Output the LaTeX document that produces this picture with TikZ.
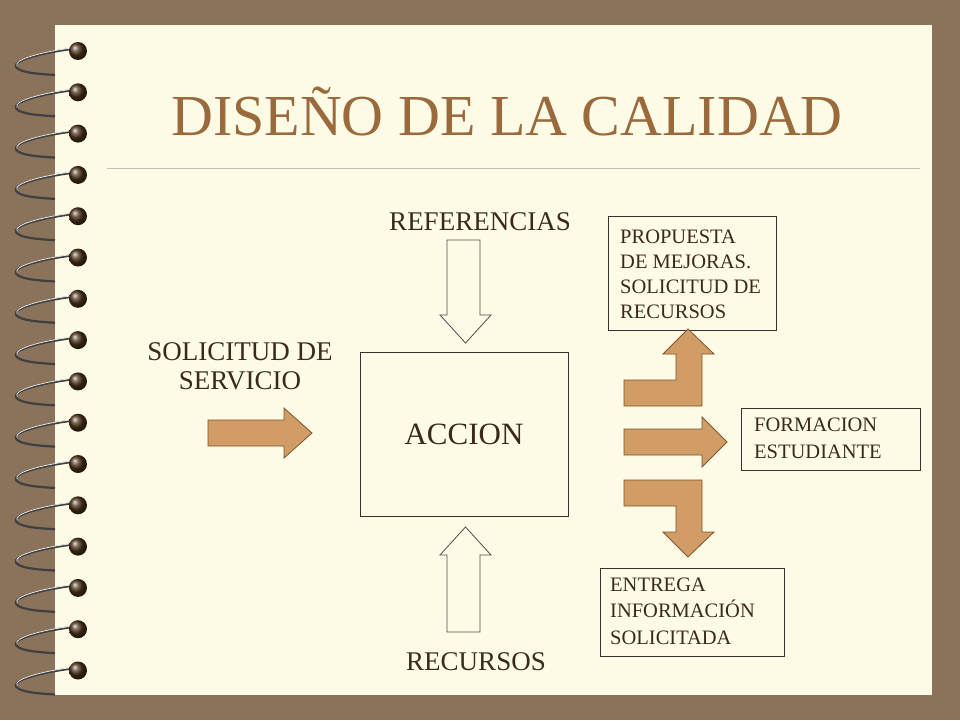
\documentclass[tikz,border=0pt]{standalone}
\usepackage{fontspec}
\setmainfont{Liberation Serif}
\begin{document}
\begin{tikzpicture}[x=1pt,y=-1pt,
  bx/.style={draw=black!80,line width=0.8pt},
  fat/.style={fill=arrowc,draw=arrowd,line width=0.8pt},
  hol/.style={fill=cream,draw=black!70,line width=0.8pt},
  lbl/.style={font=\fontsize{27}{29}\selectfont,align=center,text=txt},
  sm/.style={font=\fontsize{20.5}{25}\selectfont,align=left,anchor=base west,inner sep=0pt,text=txt}]
\definecolor{bg}{HTML}{8B735B}
\definecolor{cream}{HTML}{FDFBE6}
\definecolor{arrowc}{HTML}{D29C67}
\definecolor{arrowd}{HTML}{7A5530}
\definecolor{titlec}{HTML}{9A6A3C}
\definecolor{txt}{HTML}{3A2A1A}
\useasboundingbox (0,0) rectangle (960,720);
\fill[bg] (0,0) rectangle (960,720);
\fill[cream] (55,25) rectangle (932,695);
% spiral rings
\foreach \i in {0,...,15}{
  \pgfmathsetmacro{\yy}{47+\i*41.3}
  \draw[black!75,line width=2.2pt] (72,\yy+2) .. controls (40,\yy+6) and (12,\yy+14) .. (16,\yy+20) .. controls (20,\yy+26) and (40,\yy+27) .. (55,\yy+28);
  \draw[white!80!gray,line width=0.8pt] (72,\yy+1) .. controls (40,\yy+5) and (13,\yy+13) .. (17,\yy+19);
  \shade[ball color=black!60!brown] (78,\yy+4) circle (9);
}
\node[text=titlec,font=\fontsize{58}{64}\selectfont] (title) at (507,112) {DISEÑO DE LA CALIDAD};
\draw[black!25,line width=0.6pt] (107,168) -- (920,168);
% boxes
\node[bx,minimum width=208,minimum height=164,font=\fontsize{31}{34}\selectfont,text=txt] (acc) at (464,434) {ACCION};
\draw[bx] (608,216) rectangle (776,330);
\node[sm] (p1) at (620,243) {PROPUESTA};
\node[sm] (p2) at (620,268) {DE MEJORAS.};
\node[sm] (p3) at (620,293) {SOLICITUD DE};
\node[sm] (p4) at (620,318) {RECURSOS};
\draw[bx] (741,408) rectangle (920,470);
\node[sm] (f1) at (754,431) {FORMACION};
\node[sm] (f2) at (754,458) {ESTUDIANTE};
\draw[bx] (600,568) rectangle (784,656);
\node[sm] (e1) at (610,591) {ENTREGA};
\node[sm] (e2) at (610,617) {INFORMACIÓN};
\node[sm] (e3) at (610,644) {SOLICITADA};
\node[lbl] (ref) at (480,222) {REFERENCIAS};
\node[lbl] (rec) at (476,662) {RECURSOS};
\node[lbl] (sol) at (240,366) {SOLICITUD DE\\SERVICIO};
% hollow arrows
\draw[hol] (447,240) -- (480,240) -- (480,315) -- (491,315) -- (465.5,343) -- (440,315) -- (447,315) -- cycle;
\draw[hol] (447,632) -- (480,632) -- (480,555) -- (491,555) -- (465.5,527) -- (440,555) -- (447,555) -- cycle;
% fat arrows
\draw[fat] (208,420) -- (284,420) -- (284,408) -- (312,433) -- (284,458) -- (284,446) -- (208,446) -- cycle;
\draw[fat] (624,380) -- (676,380) -- (676,354) -- (663,354) -- (688,329) -- (714,354) -- (702,354) -- (702,406) -- (624,406) -- cycle;
\draw[fat] (624,429) -- (702,429) -- (702,417) -- (727,442) -- (702,467) -- (702,455) -- (624,455) -- cycle;
\draw[fat] (624,480) -- (702,480) -- (702,532) -- (714,532) -- (688,557) -- (663,532) -- (676,532) -- (676,506) -- (624,506) -- cycle;
\end{tikzpicture}
\end{document}
